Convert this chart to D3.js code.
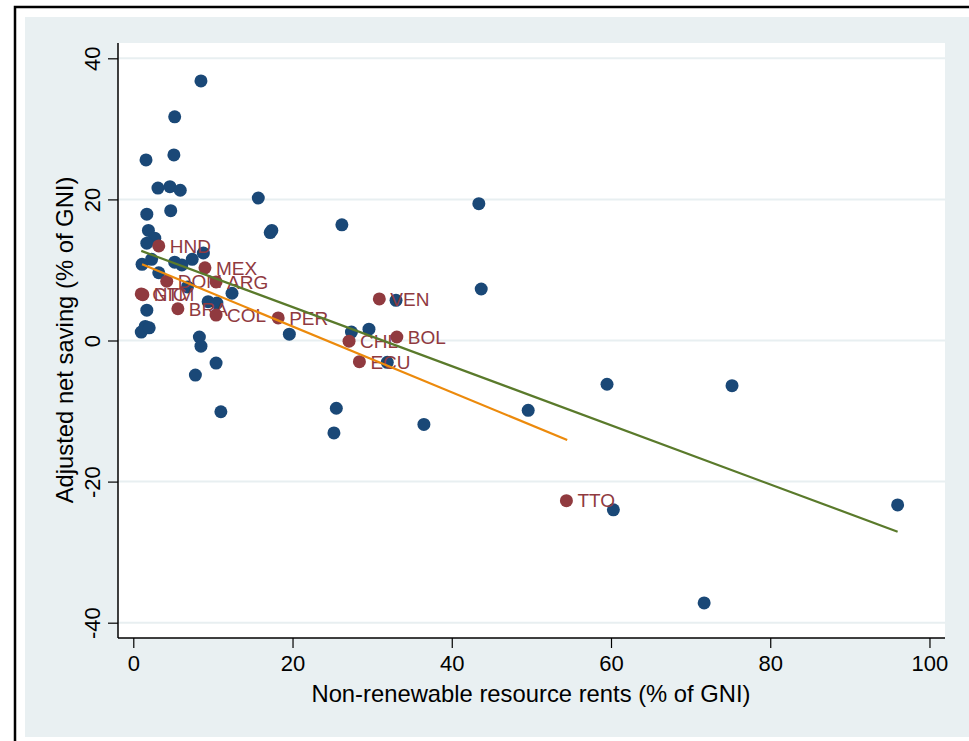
<!DOCTYPE html>
<html>
<head>
<meta charset="utf-8">
<script src="https://cdn.jsdelivr.net/npm/d3@7"></script>
<style>
  body { margin: 0; background: #ffffff; }
  text { font-family: "Liberation Sans", Arial, sans-serif; }
</style>
</head>
<body>
<div id="chart"></div>
<script>
// Other countries (blue)
const otherX = [8.5, 5.2, 1.6, 5.1, 3.1, 4.6, 5.9, 15.7, 1.7, 4.7, 1.9, 17.2, 17.4, 26.2, 43.4, 43.7,
  2.7, 1.7, 8.8, 2.3, 1.1, 5.2, 6.1, 7.4, 3.2, 12.4, 6.8, 1.7, 9.4, 10.5, 19.6, 1.5, 1.0, 2.0,
  8.3, 8.5, 10.4, 7.8, 11.0, 33.0, 27.4, 29.6, 31.9, 25.5, 25.2, 36.5, 49.6, 59.5, 75.2, 60.3, 96.0, 71.7];
const otherY = [36.8, 31.7, 25.6, 26.3, 21.6, 21.8, 21.3, 20.2, 17.9, 18.4, 15.6, 15.3, 15.6, 16.4, 19.4, 7.3,
  14.5, 13.8, 12.4, 11.5, 10.8, 11.1, 10.7, 11.5, 9.6, 6.7, 7.6, 4.3, 5.5, 5.3, 0.9, 2.0, 1.2, 1.8,
  0.5, -0.8, -3.2, -4.9, -10.1, 5.7, 1.2, 1.6, -3.1, -9.6, -13.1, -11.9, -9.9, -6.2, -6.4, -24.0, -23.3, -37.2];

// Latin American countries (red, labelled)
const latamCode = ["HND", "MEX", "DOM", "ARG", "GTM", "NIC", "BRA", "COL", "PER", "VEN", "CHL", "BOL", "ECU", "TTO"];
const latamX = [3.2, 9.0, 4.2, 10.4, 1.0, 1.2, 5.6, 10.4, 18.2, 30.9, 27.1, 33.1, 28.4, 54.4];
const latamY = [13.4, 10.3, 8.4, 8.3, 6.6, 6.5, 4.5, 3.6, 3.2, 5.9, -0.1, 0.5, -3.0, -22.7];

// Fitted lines: all countries (green) and Latin America (orange)
const fitAllX = [1.0, 96.0];
const fitAllY = [12.7, -27.1];
const fitLatamX = [1.1, 54.5];
const fitLatamY = [10.8, -14.1];

const xTicks = [0, 20, 40, 60, 80, 100];
const yTicks = [-40, -20, 0, 20, 40];

const W = 969, H = 741;
const plot = { left: 118, top: 43, right: 945, bottom: 638 };

const svg = d3.select("#chart").append("svg")
  .attr("width", W)
  .attr("height", H);

// outer frame and background
svg.append("rect")
  .attr("x", 15).attr("y", 7)
  .attr("width", W + 20).attr("height", H + 20)
  .attr("fill", "#ffffff")
  .attr("stroke", "#000000")
  .attr("stroke-width", 2.5);
svg.append("rect")
  .attr("x", 25).attr("y", 17)
  .attr("width", W - 25).attr("height", 720)
  .attr("fill", "#e9f0f2");

svg.append("rect")
  .attr("x", plot.left).attr("y", plot.top)
  .attr("width", plot.right - plot.left).attr("height", plot.bottom - plot.top)
  .attr("fill", "#ffffff");

const x = d3.scaleLinear().domain([-1.92, 101.95]).range([plot.left, plot.right]);
const y = d3.scaleLinear().domain([-42.17, 42.17]).range([plot.bottom, plot.top]);

// gridlines
svg.append("g")
  .selectAll("line")
  .data(yTicks)
  .enter().append("line")
  .attr("x1", plot.left).attr("x2", plot.right)
  .attr("y1", d => y(d)).attr("y2", d => y(d))
  .attr("stroke", "#e8eff1")
  .attr("stroke-width", 2);

// axes
const xAxis = svg.append("g")
  .attr("transform", "translate(0," + plot.bottom + ")")
  .call(d3.axisBottom(x).tickValues(xTicks).tickSize(10).tickPadding(7).tickSizeOuter(0)
    .tickFormat(d => String(d)));
const yAxis = svg.append("g")
  .attr("transform", "translate(" + plot.left + ",0)")
  .call(d3.axisLeft(y).tickValues(yTicks).tickSize(10).tickSizeOuter(0)
    .tickFormat(d => String(d)));

[xAxis, yAxis].forEach(a => {
  a.select(".domain").attr("stroke", "#000").attr("stroke-width", 1.5)
    .attr("d", a === xAxis ? "M" + plot.left + ",0H" + plot.right : "M0," + plot.top + "V" + plot.bottom);
  a.selectAll(".tick line").attr("stroke", "#000").attr("stroke-width", 1.2);
  a.selectAll(".tick text").attr("fill", "#000").style("font-size", "22px")
    .style("font-family", "'Liberation Sans', Arial, sans-serif");
});
xAxis.selectAll(".tick text").attr("dy", "0.71em");
yAxis.selectAll(".tick text")
  .attr("x", null).attr("dy", null)
  .attr("text-anchor", "middle")
  .attr("transform", "translate(-18,0) rotate(-90)");

// axis titles
svg.append("text")
  .attr("x", 531).attr("y", 702)
  .attr("text-anchor", "middle")
  .style("font-size", "23.8px")
  .text("Non-renewable resource rents (% of GNI)");
svg.append("text")
  .attr("transform", "translate(73," + 340 + ") rotate(-90)")
  .attr("text-anchor", "middle")
  .style("font-size", "23.8px")
  .text("Adjusted net saving (% of GNI)");

// blue points
svg.append("g")
  .selectAll("circle")
  .data(otherX.map((v, i) => ({ x: v, y: otherY[i] })))
  .enter().append("circle")
  .attr("cx", d => x(d.x))
  .attr("cy", d => y(d.y))
  .attr("r", 6.5)
  .attr("fill", "#1a4877");

// red points and labels
const latam = latamCode.map((c, i) => ({ code: c, x: latamX[i], y: latamY[i] }));
svg.append("g")
  .selectAll("circle")
  .data(latam)
  .enter().append("circle")
  .attr("cx", d => x(d.x))
  .attr("cy", d => y(d.y))
  .attr("r", 6.5)
  .attr("fill", "#903a3f");
svg.append("g")
  .selectAll("text")
  .data(latam)
  .enter().append("text")
  .attr("x", d => x(d.x) + 11)
  .attr("y", d => y(d.y))
  .attr("dy", "0.36em")
  .style("font-size", "19px")
  .attr("fill", "#903a3f")
  .text(d => d.code);

// fitted lines
const line = d3.line().x(d => x(d[0])).y(d => y(d[1]));
svg.append("path")
  .attr("d", line(fitAllX.map((v, i) => [v, fitAllY[i]])))
  .attr("fill", "none")
  .attr("stroke", "#5a7a2b")
  .attr("stroke-width", 2.2);
svg.append("path")
  .attr("d", line(fitLatamX.map((v, i) => [v, fitLatamY[i]])))
  .attr("fill", "none")
  .attr("stroke", "#ec8a0c")
  .attr("stroke-width", 2.2);
</script>
</body>
</html>
